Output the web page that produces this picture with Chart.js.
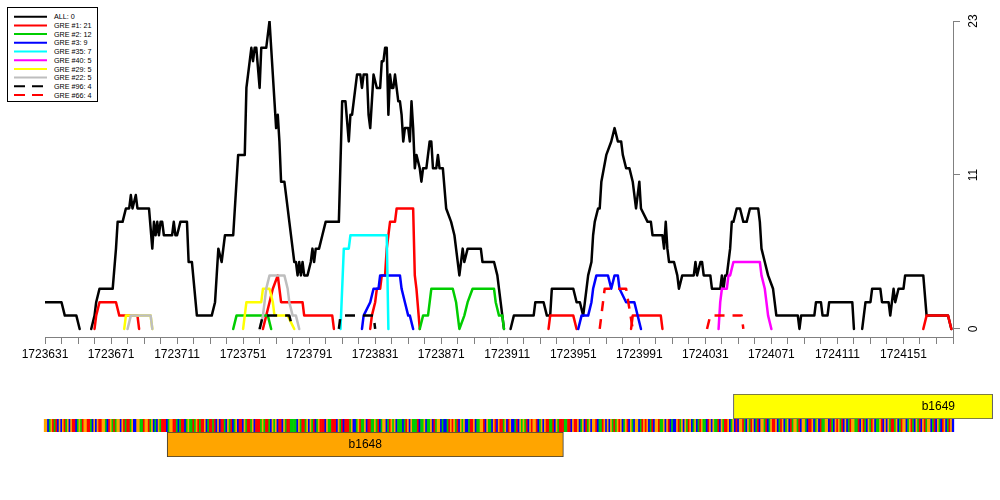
<!DOCTYPE html>
<html><head><meta charset="utf-8">
<script src="https://cdn.jsdelivr.net/npm/chart.js@4.4.0/dist/chart.umd.min.js"></script>
<style>
html,body{margin:0;padding:0;background:#fff;}
#wrap{position:relative;width:1000px;height:500px;overflow:hidden;background:#fff;}
canvas{position:absolute;left:0;}
#main{top:0;}
#geneUp{top:394px;}
#seqTrack{top:419px;}
#geneDown{top:432px;}
#legend{position:absolute;left:0;top:0;}
</style></head><body>
<div id="wrap">
<canvas id="main" width="1000" height="500"></canvas>
<canvas id="geneUp" width="1000" height="25"></canvas>
<canvas id="seqTrack" width="1000" height="13"></canvas>
<canvas id="geneDown" width="1000" height="25"></canvas>
<svg id="legend" width="110" height="110" xmlns="http://www.w3.org/2000/svg"></svg>
</div>
<script>
// ---------------- data ----------------
const regionStart = 1723631;
const regionEnd = 1724181;
const xTickStep = 10;
const xTickLabels = [1723631,1723671,1723711,1723751,1723791,1723831,1723871,1723911,1723951,1723991,1724031,1724071,1724111,1724151];
const yTickValues = [0, 11.5, 23];
const yTickLabels = ['0', '11', '23'];

const seriesLabels = ['ALL: 0','GRE #1: 21','GRE #2: 12','GRE #3: 9','GRE #35: 7','GRE #40: 5','GRE #29: 5','GRE #22: 5','GRE #96: 4','GRE #66: 4'];
const seriesColors = ['#000000','#FF0000','#00CD00','#0000FF','#00FFFF','#FF00FF','#FFFF00','#BEBEBE','#000000','#FF0000'];
const seriesDashed = [false,false,false,false,false,false,false,false,true,true];

const allPos = [1723631,1723641,1723643,1723650,1723652,1723655,1723659,1723661,1723662,1723664,1723672,1723674,1723675,1723678,1723680,1723682,1723683,1723684,1723686,1723687,1723694,1723696,1723697,1723698,1723699,1723700,1723701,1723702,1723703,1723708,1723709,1723710,1723711,1723713,1723717,1723718,1723720,1723723,1723732,1723734,1723735,1723736,1723738,1723740,1723745,1723748,1723752,1723753,1723755,1723756,1723757,1723758,1723759,1723761,1723762,1723765,1723767,1723768,1723770,1723771,1723772,1723773,1723774,1723776,1723778,1723779,1723781,1723782,1723783,1723784,1723785,1723786,1723787,1723788,1723790,1723792,1723793,1723794,1723795,1723797,1723799,1723801,1723809,1723811,1723813,1723815,1723816,1723817,1723818,1723820,1723822,1723823,1723824,1723826,1723827,1723828,1723829,1723830,1723832,1723834,1723835,1723836,1723837,1723838,1723839,1723840,1723841,1723842,1723843,1723845,1723846,1723847,1723848,1723849,1723851,1723852,1723853,1723854,1723855,1723856,1723858,1723859,1723860,1723862,1723864,1723865,1723866,1723868,1723869,1723870,1723872,1723874,1723877,1723879,1723882,1723884,1723885,1723887,1723895,1723896,1723903,1723905,1723906,1723909,1723910,1723913,1723915,1723927,1723928,1723933,1723935,1723937,1723938,1723951,1723953,1723955,1723957,1723959,1723960,1723962,1723963,1723964,1723966,1723967,1723968,1723971,1723974,1723976,1723978,1723980,1723981,1723983,1723985,1723987,1723989,1723991,1723992,1723996,1723998,1723999,1724005,1724006,1724007,1724008,1724009,1724012,1724014,1724015,1724017,1724024,1724025,1724026,1724028,1724029,1724030,1724034,1724035,1724040,1724041,1724042,1724043,1724044,1724045,1724046,1724047,1724048,1724050,1724052,1724054,1724056,1724058,1724063,1724064,1724065,1724067,1724069,1724072,1724074,1724087,1724088,1724089,1724097,1724098,1724101,1724102,1724105,1724106,1724120,1724121,1724123,1724126,1724128,1724131,1724132,1724137,1724138,1724142,1724143,1724145,1724146,1724148,1724151,1724152,1724163,1724165,1724178,1724180];
const allVal = [2,2,1,1,0,null,0,1,2,3,3,6,8,8,9,9,10,9,10,9,9,6,8,7,8,7,8,8,7,7,8,7,7,8,8,5,5,1,1,2,4,6,5,7,7,13,13,18,20,21,20,21,21,18,21,21,23,21,17,15,16,14,11,11,9,8,6,5,5,4,5,4,5,4,4,5,6,5,6,6,7,8,8,17,17,14,16,16,17,19,19,18,19,19,16,15,17,19,18,18,20,20,21,21,16,19,18,18,19,17,17,16,14,15,15,14,17,15,12,13,12,11,12,12,14,14,12,12,13,12,12,9,8,7,4,6,5,6,6,5,5,4,3,0,null,0,1,1,2,2,1,1,3,3,2,2,1,3,4,5,7,8,9,9,11,13,14,15,14,14,13,12,12,11,9,11,9,8,8,7,7,6,8,6,5,5,4,3,4,4,5,4,5,5,4,4,3,3,4,3,4,4,5,6,8,8,9,9,8,8,9,9,8,6,5,4,3,1,1,0,1,1,2,2,1,1,2,2,0,null,0,2,2,3,3,2,2,1,3,2,3,3,4,4,1,1,0];

const gre1Pos = [1723661,1723662,1723664,1723674,1723676,1723687,1723688,1723690,1723763,1723765,1723767,1723769,1723772,1723773,1723774,1723787,1723788,1723805,1723806,1723808,1723828,1723829,1723831,1723832,1723834,1723835,1723837,1723838,1723839,1723840,1723843,1723844,1723854,1723855,1723856,1723858,1723860,1723936,1723937,1723951,1723953,1723955,1723986,1723987,1724004,1724005,1724010,1724163,1724165,1724178,1724180];
const gre1Val = [0,1,2,2,1,1,0,null,0,1,2,3,4,3,2,2,1,1,0,null,0,1,2,3,3,4,4,6,7,8,8,9,9,4,3,0,null,0,1,1,0,null,0,1,1,0,null,0,1,1,0];

const gre2Pos = [1723745,1723747,1723766,1723768,1723770,1723858,1723860,1723863,1723865,1723878,1723880,1723881,1723882,1723885,1723887,1723890,1723903,1723904,1723906,1723908,1723909];
const gre2Val = [0,1,1,0,null,0,1,1,3,3,2,1,0,1,2,3,3,2,1,1,0];

const gre3Pos = [1723823,1723824,1723828,1723830,1723833,1723834,1723846,1723847,1723849,1723851,1723852,1723854,1723856,1723954,1723956,1723960,1723962,1723963,1723965,1723972,1723974,1723976,1723978,1723979,1723983,1723988,1723992];
const gre3Val = [0,1,2,3,3,4,4,3,2,1,1,0,null,0,1,1,2,3,4,4,3,4,4,3,2,2,0];

const gre35Pos = [1723810,1723812,1723815,1723816,1723838,1723839];
const gre35Val = [0,6,6,7,7,0];

const gre40Pos = [1724039,1724040,1724041,1724044,1724045,1724046,1724048,1724064,1724065,1724067,1724068,1724069,1724071];
const gre40Val = [0,2,3,3,4,4,5,5,4,3,2,1,0];

const gre29Pos = [1723679,1723680,1723695,1723696,1723700,1723751,1723753,1723762,1723763,1723767,1723769,1723770,1723778,1723782];
const gre29Val = [0,1,1,0,null,0,2,2,3,3,2,1,1,0];

const gre22Pos = [1723681,1723683,1723695,1723696,1723700,1723761,1723763,1723764,1723765,1723767,1723776,1723778,1723779,1723781,1723783,1723785];
const gre22Val = [0,1,1,0,null,0,1,2,3,4,4,3,2,1,1,0];

const gre96Pos = [1723761,1723763,1723779,1723781,1723790,1723809,1723810,1723830,1723831];
const gre96Val = [0,1,1,0,null,0,1,1,0];

const gre66Pos = [1723967,1723970,1723983,1723987,1723995,1724032,1724034,1724053,1724054];
const gre66Val = [0,3,3,0,null,0,1,1,0];

const geneNames = ['b1648','b1649'];
const geneStart = [1723705, 1724048];
const geneEnd = [1723945, 1724205];
const geneStrand = [-1, 1];
const geneColors = ['#FFA500', '#FFFF00'];

const sequence =
 'GGCAGTATCGCGTAGCGTTCAGATGGTTACGCGTTGGACTGATAGGCGTA' +
 'TTAGCCGGAATGGTAGCACGATTTCAGGTTACATTCAGAATAGTATTGCA' +
 'TTATCGCTTACGATCAGCTTCGATTAGCTTTAGATTACGAGCTTCGATTA' +
 'AAACGATTAGCGATCAGTTTCGAATTTCGATCTTTAGCCAGTAAGCTTAA' +
 'GATCAGGCATGAGCAAACATGCGAAATCAAGCAAGCTAGGCACCATGTGA' +
 'TCGAGCCATTGCAAGGTCGAACGTCGTTAGCTGCCATCGAGATCGTGGTC' +
 'AGCGTTAATCGATTTAATTCGTTGCAGCTAGCGGTCAATGCGCGATAGTG' +
 'CAGTCGACGGCATGTGCATCGGTAAGCGTCACCGTAGCGATGCAGCATGA' +
 'ACTGCGAATCGATTGCAGCTCGGTACGATGCATCGGATCAGTTGCATGCA' +
 'GCTAGGATCGGACTTGCAGCTAAGGCTACGTGATCGCATGGAATCGTACG' +
 'ATGCAAGTCGCGATTAGCATGGCAGTACGATCGTAGGCATCGACTGCATGC';
const nucColors = {A:'#00CD00', C:'#0000FF', G:'#FFA500', T:'#FF0000'};

// ---------------- build ----------------
const seriesPos = [allPos,gre1Pos,gre2Pos,gre3Pos,gre35Pos,gre40Pos,gre29Pos,gre22Pos,gre96Pos,gre66Pos];
const seriesVal = [allVal,gre1Val,gre2Val,gre3Val,gre35Val,gre40Val,gre29Val,gre22Val,gre96Val,gre66Val];
const FONT = "'Liberation Sans', Arial, Helvetica, sans-serif";

const datasets = seriesLabels.map((lab, i) => ({
  label: lab,
  data: seriesPos[i].map((p, j) => ({x: p, y: seriesVal[i][j]})),
  borderColor: seriesColors[i],
  backgroundColor: seriesColors[i],
  borderWidth: 2.5,
  borderDash: seriesDashed[i] ? [10, 8] : [],
  borderCapStyle: seriesDashed[i] ? 'butt' : 'round',
  borderJoinStyle: 'round',
  pointRadius: 0,
  fill: false,
  tension: 0,
  spanGaps: false,
  order: seriesLabels.length - i
}));

const xTicks = [];
for (let v = regionStart; v <= regionEnd; v += xTickStep) xTicks.push(v);
const xLabelSet = new Set(xTickLabels);

const mainChart = new Chart(document.getElementById('main'), {
  type: 'line',
  data: {datasets},
  options: {
    responsive: false, animation: false, devicePixelRatio: 1,
    layout: {padding: {left: 45, right: 17, top: 21, bottom: 133}},
    plugins: {legend: {display: false}, tooltip: {enabled: false}},
    scales: {
      x: {
        type: 'linear', min: regionStart, max: regionEnd, position: 'bottom',
        afterBuildTicks: s => { s.ticks = xTicks.map(v => ({value: v})); },
        afterFit: s => { s.height = 30; },
        ticks: {autoSkip: false, maxRotation: 0, minRotation: 0, padding: 3, color: '#000',
          font: {family: FONT, size: 12},
          callback: v => xLabelSet.has(v) ? String(v) : ''},
        grid: {display: true, drawOnChartArea: false, drawTicks: true, tickLength: 7, color: '#808080', lineWidth: 1},
        border: {display: true, color: '#808080', width: 1}
      },
      y: {
        type: 'linear', position: 'right', min: -0.6, max: 23,
        afterBuildTicks: s => { s.ticks = yTickValues.map(v => ({value: v})); },
        afterFit: s => { s.width = 30; },
        ticks: {minRotation: 90, maxRotation: 90, crossAlign: 'center', padding: 7, color: '#000',
          font: {family: FONT, size: 12},
          callback: (v, i) => yTickLabels[i]},
        grid: {display: true, drawOnChartArea: false, drawTicks: true, tickLength: 7, color: '#808080', lineWidth: 1},
        border: {display: true, color: '#808080', width: 1}
      }
    }
  }
});

// ---- legend (SVG, real text) ----
(function () {
  const svg = document.getElementById('legend');
  const NS = 'http://www.w3.org/2000/svg';
  const rect = document.createElementNS(NS, 'rect');
  rect.setAttribute('x', 7.5); rect.setAttribute('y', 7.5);
  rect.setAttribute('width', 90); rect.setAttribute('height', 94);
  rect.setAttribute('fill', '#fff'); rect.setAttribute('stroke', '#000'); rect.setAttribute('stroke-width', 1);
  svg.appendChild(rect);
  seriesLabels.forEach((lab, i) => {
    const y = 16.7 + 8.7 * i;
    const ln = document.createElementNS(NS, 'line');
    ln.setAttribute('x1', 14); ln.setAttribute('x2', 47);
    ln.setAttribute('y1', y); ln.setAttribute('y2', y);
    ln.setAttribute('stroke', seriesColors[i]); ln.setAttribute('stroke-width', 2);
    if (seriesDashed[i]) ln.setAttribute('stroke-dasharray', '11 7');
    svg.appendChild(ln);
    const t = document.createElementNS(NS, 'text');
    t.setAttribute('x', 54); t.setAttribute('y', y + 2.6);
    t.setAttribute('font-family', "Liberation Sans, Arial, sans-serif");
    t.setAttribute('font-size', '7.2');
    t.setAttribute('fill', '#000');
    t.textContent = lab;
    svg.appendChild(t);
  });
})();

// ---- lower tracks: genes + sequence (one horizontal floating-bar chart each) ----
const trackMin = mainChart.scales.x.getValueForPixel(0);
const trackMax = mainChart.scales.x.getValueForPixel(1000);
const plotEndPixel = mainChart.chartArea.right;

const geneLabelPlugin = {
  id: 'geneLabels',
  afterDatasetsDraw(chart) {
    const names = chart.options.plugins.geneLabels.names;
    if (!names) return;
    const meta = chart.getDatasetMeta(0);
    const ctx = chart.ctx;
    ctx.save();
    ctx.font = '12px ' + FONT;
    ctx.fillStyle = '#000';
    ctx.textBaseline = 'middle';
    meta.data.forEach((bar, i) => {
      const x0 = Math.min(bar.x, bar.base), x1 = Math.max(bar.x, bar.base);
      const y = bar.y + 0.5;
      if (x1 > plotEndPixel + 2) {
        ctx.textAlign = 'right';
        ctx.fillText(names[i], plotEndPixel + 2, y);
      } else {
        ctx.textAlign = 'center';
        ctx.fillText(names[i], (x0 + x1) / 2, y);
      }
    });
    ctx.restore();
  }
};

function makeTrack(canvasId, items, colors, borderColor, borderWidth, names) {
  return new Chart(document.getElementById(canvasId), {
    type: 'bar',
    data: {
      labels: ['row'],
      datasets: [{
        data: items.map(it => ({x: [it[0], it[1]], y: 'row'})),
        backgroundColor: colors,
        borderColor: borderColor, borderWidth: borderWidth, borderSkipped: false,
        categoryPercentage: 1, barPercentage: 1
      }]
    },
    options: {
      indexAxis: 'y', responsive: false, animation: false, devicePixelRatio: 1,
      layout: {padding: 0},
      plugins: {legend: {display: false}, tooltip: {enabled: false}, geneLabels: {names: names}},
      scales: {
        x: {type: 'linear', min: trackMin, max: trackMax, display: false},
        y: {type: 'category', labels: ['row'], display: false}
      }
    },
    plugins: [geneLabelPlugin]
  });
}

const seqChars = sequence.slice(0, regionEnd - regionStart + 1).split('');
makeTrack('seqTrack',
  seqChars.map((c, i) => [regionStart + i - 0.5, regionStart + i + 0.5]),
  seqChars.map(c => nucColors[c]), 'rgba(0,0,0,0)', 0, null);

const upIdx = geneStrand.map((s, i) => i).filter(i => geneStrand[i] > 0);
const downIdx = geneStrand.map((s, i) => i).filter(i => geneStrand[i] < 0);
makeTrack('geneUp', upIdx.map(i => [geneStart[i], geneEnd[i]]), upIdx.map(i => geneColors[i]),
  '#555555', 1, upIdx.map(i => geneNames[i]));
makeTrack('geneDown', downIdx.map(i => [geneStart[i], geneEnd[i]]), downIdx.map(i => geneColors[i]),
  '#3a3a3a', 1, downIdx.map(i => geneNames[i]));
</script>
</body></html>
